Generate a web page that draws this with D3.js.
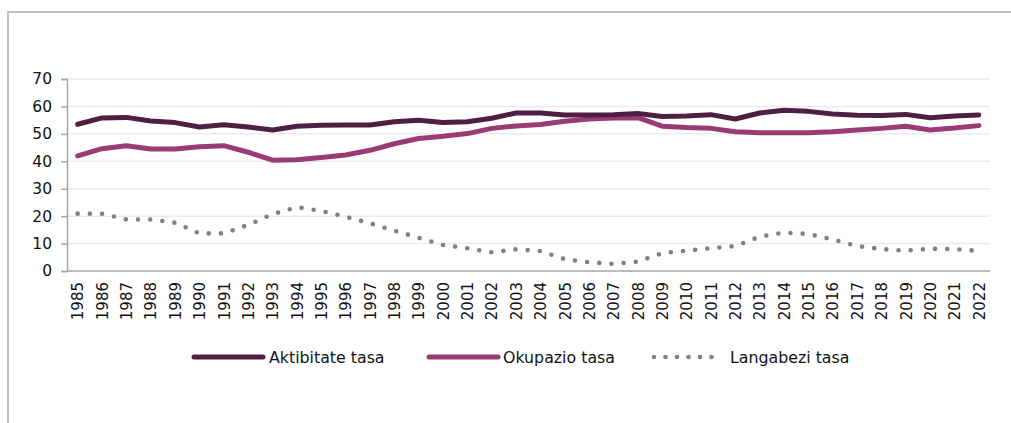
<!DOCTYPE html>
<html>
<head>
<meta charset="utf-8">
<script src="https://cdn.jsdelivr.net/npm/d3@7"></script>
<style>
  html, body { margin: 0; padding: 0; background: #fff; }
  svg { display: block; font-family: "DejaVu Sans", Verdana, sans-serif; }
</style>
</head>
<body>
<svg id="chart" width="1011" height="423"></svg>
<script>
const years = ["1985","1986","1987","1988","1989","1990","1991","1992","1993","1994","1995","1996","1997","1998","1999","2000","2001","2002","2003","2004","2005","2006","2007","2008","2009","2010","2011","2012","2013","2014","2015","2016","2017","2018","2019","2020","2021","2022"];
const aktibitate = [53.5, 55.8, 56.0, 54.7, 54.1, 52.5, 53.3, 52.5, 51.4, 52.8, 53.1, 53.2, 53.2, 54.4, 55.0, 54.1, 54.4, 55.7, 57.6, 57.6, 56.9, 56.9, 57.0, 57.4, 56.3, 56.5, 57.0, 55.4, 57.6, 58.6, 58.2, 57.2, 56.8, 56.7, 57.1, 55.9, 56.5, 56.9];
const okupazio = [42.0, 44.6, 45.7, 44.5, 44.5, 45.3, 45.7, 43.3, 40.4, 40.6, 41.4, 42.3, 44.0, 46.4, 48.3, 49.1, 50.1, 52.0, 52.9, 53.4, 54.6, 55.4, 55.8, 55.9, 52.8, 52.3, 52.0, 50.8, 50.4, 50.4, 50.4, 50.8, 51.4, 52.0, 52.8, 51.4, 52.1, 53.0];
const langabezi = [20.9, 20.9, 18.8, 18.8, 17.6, 13.7, 13.7, 16.8, 20.7, 23.3, 21.9, 19.8, 17.4, 14.7, 12.1, 9.5, 8.3, 6.8, 7.9, 7.3, 4.3, 3.2, 2.6, 3.4, 6.5, 7.4, 8.3, 9.1, 12.5, 14.0, 13.5, 11.5, 9.1, 8.0, 7.4, 8.1, 8.0, 7.3];
const yTicks = [0, 10, 20, 30, 40, 50, 60, 70];
const seriesNames = ["Aktibitate tasa", "Okupazio tasa", "Langabezi tasa"];

const series = [
  { name: seriesNames[0], values: aktibitate, color: "#4f1f43", dotted: false },
  { name: seriesNames[1], values: okupazio, color: "#9a3b76", dotted: false },
  { name: seriesNames[2], values: langabezi, color: "#808080", dotted: true }
];

const svg = d3.select("#chart");
svg.append("rect").attr("width", 1011).attr("height", 423).attr("fill", "#fff");

// outer frame (top and left edges visible)
svg.append("path")
  .attr("d", "M8,423 L8,12 L1011,12")
  .attr("fill", "none").attr("stroke", "#bfbfbf").attr("stroke-width", 2);

const plotLeft = 67, plotRight = 990;
const x = d3.scalePoint().domain(years).range([65.5, 991]).padding(0.5);
const y = d3.scaleLinear().domain([0, 70]).range([271, 79]);

// gridlines
svg.append("g").selectAll("line").data(yTicks.filter(d => d > 0)).join("line")
  .attr("x1", plotLeft).attr("x2", plotRight)
  .attr("y1", d => y(d)).attr("y2", d => y(d))
  .attr("stroke", "#ebebeb").attr("stroke-width", 1.5);

// y axis
const yAxis = svg.append("g").attr("transform", `translate(${plotLeft},0)`)
  .call(d3.axisLeft(y).tickValues(yTicks).tickSize(6).tickPadding(9).tickFormat(d3.format("d")));
yAxis.select(".domain").attr("stroke", "#a6a6a6").attr("stroke-width", 1.5);
yAxis.selectAll(".tick line").attr("stroke", "#a6a6a6").attr("stroke-width", 1.5);
yAxis.selectAll(".tick text").attr("font-size", 15.5).attr("fill", "#111")
  .attr("font-family", "DejaVu Sans, Verdana, sans-serif");

// x axis
svg.append("line").attr("x1", plotLeft).attr("x2", plotRight)
  .attr("y1", y(0)).attr("y2", y(0)).attr("stroke", "#a6a6a6").attr("stroke-width", 1.5);
const xAxis = svg.append("g").attr("transform", `translate(0,${y(0)})`)
  .call(d3.axisBottom(x).tickSize(0).tickPadding(0));
xAxis.select(".domain").remove();
xAxis.selectAll(".tick text")
  .attr("font-size", 15).attr("fill", "#111")
  .attr("font-family", "DejaVu Sans, Verdana, sans-serif")
  .attr("transform", "rotate(-90)")
  .attr("text-anchor", "end")
  .attr("x", -11).attr("y", 0).attr("dy", "0.35em");

// lines
const line = d3.line().x((d, i) => x(years[i])).y(d => y(d)).curve(d3.curveLinear);
const order = [2, 1, 0];
order.forEach(k => {
  const s = series[k];
  svg.append("path")
    .attr("d", line(s.values))
    .attr("fill", "none")
    .attr("stroke", s.color)
    .attr("stroke-width", s.dotted ? 4.6 : 5)
    .attr("stroke-linecap", "round")
    .attr("stroke-linejoin", "round")
    .attr("stroke-dasharray", s.dotted ? "0,12.2" : null);
});

// legend
const legendY = 357;
const legendItems = [
  { x0: 194, x1: 263, tx: 269 },
  { x0: 429, x1: 498, tx: 503 },
  { x0: 654, x1: 723, tx: 730 }
];
series.forEach((s, i) => {
  const L = legendItems[i];
  svg.append("line")
    .attr("x1", L.x0).attr("x2", L.x1).attr("y1", legendY).attr("y2", legendY)
    .attr("stroke", s.color)
    .attr("stroke-width", s.dotted ? 4.6 : 5)
    .attr("stroke-linecap", "round")
    .attr("stroke-dasharray", s.dotted ? "0,11.5" : null);
  svg.append("text")
    .attr("x", L.tx).attr("y", legendY + 5.5)
    .attr("font-size", 15.8).attr("fill", "#111")
    .text(s.name);
});
</script>
</body>
</html>
